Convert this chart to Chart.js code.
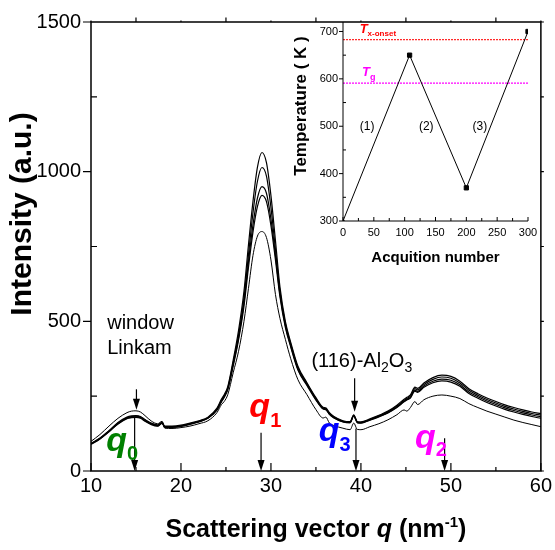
<!DOCTYPE html>
<html><head><meta charset="utf-8">
<script src="https://cdn.jsdelivr.net/npm/chart.js@4.4.0/dist/chart.umd.min.js"></script>
<style>
html,body{margin:0;padding:0;background:#fff;}
#wrap{position:relative;width:555px;height:550px;overflow:hidden;}
#main{position:absolute;left:0;top:0;}
#inset{position:absolute;left:280px;top:0;}
</style></head><body>
<div id="wrap">
<canvas id="main" width="555" height="550"></canvas>
<canvas id="inset" width="270" height="275"></canvas>
</div>
<script>
// ---------- data ----------
const qValues = [10,11,12,13,14,14.5,15,15.5,16,16.7,17.4,17.9,18.2,19,20,21,22,23,24,24.5,24.8,25.2,25.8,26.4,27,27.5,28,28.5,29,29.5,30,30.5,31,31.6,32.2,33,34,35,35.8,36.1,36.5,37,38,38.8,39.2,39.6,40,41,42,43,44,44.8,45.1,45.5,46,46.3,47,48,49,50,51,52,53,54,55,56,57,58,59,60];
const intensityA = [92,110,135,162,180,184,185,182,172,160,154,163,150,150,153,160,168,180,210,240,255,282,370,470,600,755,900,1015,1064,1030,920,770,615,500,430,350,295,245,213,211,195,182,168,165,188,165,164,174,186,200,220,240,246,254,280,276,294,312,320,316,300,275,258,244,232,221,212,204,197,192];
const intensityB = [91,109,134,160,178,182,183,180,170,158,152,161,148,148,151,158,166,178,207,236,251,277,362,455,578,722,862,968,1014,985,880,740,600,492,424,345,292,242,210,208,192,180,166,163,186,163,162,172,184,197,217,236,242,250,275,271,289,306,314,310,294,270,253,239,227,216,207,199,192,187];
const intensityC = [90,108,132,158,176,180,181,178,168,157,151,160,147,147,150,157,165,177,205,233,248,274,355,445,562,698,822,912,950,928,842,720,590,486,418,340,288,239,208,206,190,178,165,162,185,162,161,171,182,195,214,233,239,246,270,266,284,300,307,303,288,264,248,234,222,211,202,194,187,181];
const intensityD = [89,107,131,157,175,178,179,176,166,155,150,159,146,146,149,156,164,176,203,231,246,272,350,438,550,680,798,884,921,900,820,705,582,480,414,337,286,237,207,205,189,177,164,161,184,161,160,170,181,194,212,231,237,244,267,263,280,295,301,297,283,259,243,229,217,206,197,189,182,176];
const intensityE = [99,122,150,176,195,200,201,197,185,167,158,166,143,142,145,150,158,168,195,222,232,255,328,400,500,610,720,785,800,780,705,590,510,440,375,305,255,205,177,180,160,152,143,138,160,139,138,148,158,171,188,204,200,212,232,222,238,250,254,250,242,225,212,200,190,180,170,162,155,148];
const xTickValues = [10,20,30,40,50,60];
const xMinorValues = [15,25,35,45,55];
const yTickValues = [0,500,1000,1500];
const yMinorValues = [250,750,1250];

const acqNumber = [0,108,200,300];
const temperatureK = [300,650,370,700];
const T_XONSET = 683;
const T_G = 591;
const insetXTicks = [0,50,100,150,200,250,300];
const insetXMinor = [25,75,125,175,225,275];
const insetYTicks = [300,400,500,600,700];
const insetYMinor = [350,450,550,650];

// ---------- helpers ----------
const FONT = "'Liberation Sans', Arial, sans-serif";
function series(ys){ return qValues.map((x,i)=>({x:x, y:ys[i]})); }
function richWidth(ctx, parts){ let w=0; for(const p of parts){ ctx.font=p.f; w+=ctx.measureText(p.t).width; } return w; }
function rich(ctx, x, y, parts){
  let cx=x;
  for(const p of parts){ ctx.font=p.f; ctx.fillStyle=p.c||'#000'; ctx.fillText(p.t, cx, y+(p.dy||0)); cx+=ctx.measureText(p.t).width; }
  return cx;
}
function arrow(ctx, x, y1, y2){
  ctx.beginPath(); ctx.moveTo(x,y1); ctx.lineTo(x,y2-8); ctx.stroke();
  ctx.beginPath(); ctx.moveTo(x-3.5,y2-11); ctx.lineTo(x+3.5,y2-11); ctx.lineTo(x,y2); ctx.closePath(); ctx.fill();
}
const plain = v => String(v);

// ---------- main chart decorations ----------
const mainDecor = {
  id:'mainDecor',
  afterDraw(chart){
    const ctx=chart.ctx, xs=chart.scales.x, ys=chart.scales.y, a=chart.chartArea;
    ctx.save();
    ctx.strokeStyle='#000'; ctx.fillStyle='#000';
    ctx.lineWidth=1.5;
    ctx.strokeRect(a.left, a.top, a.right-a.left, a.bottom-a.top);
    ctx.lineWidth=1.2;
    ctx.beginPath();
    for(const v of xTickValues){ const p=xs.getPixelForValue(v); ctx.moveTo(p,a.bottom); ctx.lineTo(p,a.bottom-8); ctx.moveTo(p,a.top); ctx.lineTo(p,a.top-1.5); }
    for(const v of xMinorValues){ const p=xs.getPixelForValue(v); ctx.moveTo(p,a.bottom); ctx.lineTo(p,a.bottom-4); ctx.moveTo(p,a.top); ctx.lineTo(p,a.top-4.5); }
    for(const v of yTickValues){ const p=ys.getPixelForValue(v); ctx.moveTo(a.left,p); ctx.lineTo(a.left-8,p); ctx.moveTo(a.right,p); ctx.lineTo(a.right+3,p); }
    for(const v of yMinorValues){ const p=ys.getPixelForValue(v); ctx.moveTo(a.left,p); ctx.lineTo(a.left+6,p); ctx.moveTo(a.right,p); ctx.lineTo(a.right+3,p); }
    ctx.stroke();

    // arrows
    ctx.lineWidth=1.2;
    const X=v=>xs.getPixelForValue(v), Y=v=>ys.getPixelForValue(v);
    arrow(ctx, X(15.05), Y(273), Y(205));
    arrow(ctx, X(14.85), Y(180), Y(0));
    arrow(ctx, X(28.9), Y(128), Y(0));
    arrow(ctx, X(39.3), Y(310), Y(198));
    arrow(ctx, X(39.45), Y(142), Y(0));
    arrow(ctx, X(49.3), Y(109), Y(0));

    // texts
    ctx.textAlign='left'; ctx.textBaseline='alphabetic';
    const reg='20px '+FONT;
    rich(ctx, X(11.8), Y(476), [{t:'window', f:reg}]);
    rich(ctx, X(11.8), Y(390), [{t:'Linkam', f:reg}]);
    const sub='14px '+FONT;
    rich(ctx, X(34.5), Y(348), [{t:'(116)-Al', f:reg},{t:'2', f:sub, dy:5},{t:'O', f:reg},{t:'3', f:sub, dy:5}]);

    const qf='italic bold 34px '+FONT, sf='bold 20px '+FONT;
    rich(ctx, X(11.7), Y(66), [{t:'q', f:qf, c:'#008000'},{t:'0', f:sf, c:'#008000', dy:9}]);
    rich(ctx, X(27.6), Y(182), [{t:'q', f:qf, c:'#ff0000'},{t:'1', f:sf, c:'#ff0000', dy:10}]);
    rich(ctx, X(35.3), Y(100), [{t:'q', f:qf, c:'#0000ff'},{t:'3', f:sf, c:'#0000ff', dy:10}]);
    rich(ctx, X(46.0), Y(76), [{t:'q', f:qf, c:'#ff00ff'},{t:'2', f:sf, c:'#ff00ff', dy:8}]);

    // axis titles
    const tf='bold 25px '+FONT;
    const tparts=[{t:'Scattering vector ', f:tf},{t:'q', f:'italic bold 25px '+FONT},{t:' (nm', f:tf},{t:'-1', f:'bold 15px '+FONT, dy:-10},{t:')', f:tf}];
    const tw=richWidth(ctx,tparts);
    rich(ctx, (a.left+a.right)/2 - tw/2, 537, tparts);

    ctx.save();
    ctx.translate(23, 214);
    ctx.rotate(-Math.PI/2);
    ctx.font='bold 30px '+FONT; ctx.fillStyle='#000'; ctx.textAlign='center'; ctx.textBaseline='middle';
    ctx.fillText('Intensity (a.u.)', 0, 0);
    ctx.restore();
    ctx.restore();
  }
};

const curves=[intensityA,intensityB,intensityC,intensityD];
new Chart(document.getElementById('main'), {
  type:'line',
  data:{datasets:[
    ...curves.map(c=>({data:series(c), borderColor:'#000', borderWidth:1.2, pointRadius:0, cubicInterpolationMode:'monotone', fill:false})),
    {data:series(intensityE), borderColor:'#000', borderWidth:1, pointRadius:0, cubicInterpolationMode:'monotone', fill:false}
  ]},
  options:{
    responsive:false, animation:false, devicePixelRatio:1,
    layout:{padding:{left:0,right:13,top:16,bottom:0}},
    plugins:{legend:{display:false}, tooltip:{enabled:false}},
    scales:{
      x:{type:'linear', min:10, max:60,
        afterBuildTicks:s=>{s.ticks=xTickValues.map(v=>({value:v}));},
        afterFit:s=>{s.height=79;},
        grid:{display:false, drawTicks:false}, border:{display:false},
        ticks:{font:{family:FONT,size:20}, color:'#000', padding:3, maxRotation:0, autoSkip:false, callback:plain}},
      y:{type:'linear', min:0, max:1500,
        afterBuildTicks:s=>{s.ticks=yTickValues.map(v=>({value:v}));},
        afterFit:s=>{s.width=91;},
        grid:{display:false, drawTicks:false}, border:{display:false},
        ticks:{font:{family:FONT,size:20}, color:'#000', padding:10, callback:plain}}
    }
  },
  plugins:[mainDecor]
});

// ---------- inset ----------
const insetDecor = {
  id:'insetDecor',
  afterDraw(chart){
    const ctx=chart.ctx, xs=chart.scales.x, ys=chart.scales.y, a=chart.chartArea;
    const X=v=>xs.getPixelForValue(v), Y=v=>ys.getPixelForValue(v);
    ctx.save();
    ctx.strokeStyle='#000'; ctx.fillStyle='#000'; ctx.lineWidth=1;
    ctx.beginPath();
    ctx.moveTo(a.left,a.top); ctx.lineTo(a.left,a.bottom); ctx.lineTo(a.right,a.bottom);
    for(const v of insetXTicks){ const p=X(v); ctx.moveTo(p,a.bottom); ctx.lineTo(p,a.bottom-4); }
    for(const v of insetXMinor){ const p=X(v); ctx.moveTo(p,a.bottom); ctx.lineTo(p,a.bottom-3); }
    for(const v of insetYTicks){ const p=Y(v); ctx.moveTo(a.left,p); ctx.lineTo(a.left-4,p); }
    for(const v of insetYMinor){ const p=Y(v); ctx.moveTo(a.left,p); ctx.lineTo(a.left+3,p); }
    ctx.stroke();

    ctx.textAlign='left'; ctx.textBaseline='alphabetic';
    rich(ctx, X(27), Y(697), [{t:'T', f:'italic bold 13px '+FONT, c:'#ff0000'},{t:'x-onset', f:'bold 8px '+FONT, c:'#ff0000', dy:3}]);
    rich(ctx, X(31), Y(605), [{t:'T', f:'italic bold 13px '+FONT, c:'#ff00ff'},{t:'g', f:'bold 9px '+FONT, c:'#ff00ff', dy:4}]);
    ctx.font='12px '+FONT; ctx.fillStyle='#000'; ctx.textAlign='center'; ctx.textBaseline='middle';
    ctx.fillText('(1)', X(39), Y(498));
    ctx.fillText('(2)', X(135), Y(498));
    ctx.fillText('(3)', X(222), Y(500));

    ctx.font='bold 15px '+FONT; ctx.textBaseline='alphabetic';
    ctx.fillText('Acquition number', (a.left+a.right)/2, 262);
    ctx.save();
    ctx.translate(21, 106); ctx.rotate(-Math.PI/2);
    ctx.font='bold 17px '+FONT; ctx.textBaseline='middle';
    ctx.fillText('Temperature ( K )', 0, 0);
    ctx.restore();
    ctx.restore();
  }
};

new Chart(document.getElementById('inset'), {
  type:'line',
  data:{datasets:[
    {data:acqNumber.map((x,i)=>({x:x,y:temperatureK[i]})), borderColor:'#000', borderWidth:1, pointStyle:'rect', pointRadius:[1.5,3,3,3], pointBackgroundColor:'#000', pointBorderColor:'#000', tension:0, fill:false},
    {data:[{x:0,y:T_XONSET},{x:300,y:T_XONSET}], borderColor:'#ff2a2a', borderWidth:1.3, borderDash:[2,1], pointRadius:0, fill:false},
    {data:[{x:0,y:T_G},{x:300,y:T_G}], borderColor:'#ff00ff', borderWidth:1.3, borderDash:[2,1], pointRadius:0, fill:false}
  ]},
  options:{
    responsive:false, animation:false, devicePixelRatio:1,
    layout:{padding:{left:0,right:22,top:22,bottom:0}},
    plugins:{legend:{display:false}, tooltip:{enabled:false}},
    scales:{
      x:{type:'linear', min:0, max:300,
        afterBuildTicks:s=>{s.ticks=insetXTicks.map(v=>({value:v}));},
        afterFit:s=>{s.height=54;},
        grid:{display:false, drawTicks:false}, border:{display:false},
        ticks:{font:{family:FONT,size:11}, color:'#000', padding:5, maxRotation:0, autoSkip:false, callback:plain}},
      y:{type:'linear', min:300, max:720,
        afterBuildTicks:s=>{s.ticks=insetYTicks.map(v=>({value:v}));},
        afterFit:s=>{s.width=63;},
        grid:{display:false, drawTicks:false}, border:{display:false},
        ticks:{font:{family:FONT,size:11}, color:'#000', padding:5, callback:plain}}
    }
  },
  plugins:[insetDecor]
});
</script>
</body></html>
